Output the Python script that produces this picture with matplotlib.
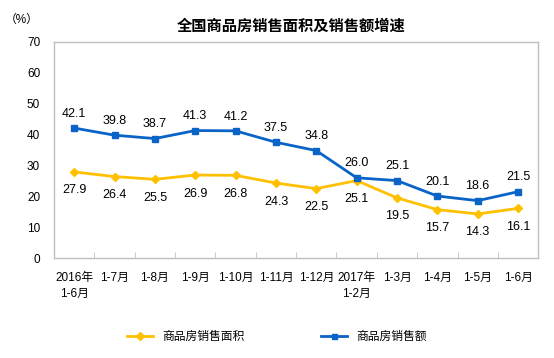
import matplotlib
matplotlib.use("Agg")
import matplotlib.pyplot as plt
import numpy as np

plt.rcParams['font.family'] = ['Liberation Sans', 'Noto Sans CJK SC', 'DejaVu Sans']

# --------------------------
# 数据
# --------------------------
months = ["2016年\n1-6月", "1-7月", "1-8月", "1-9月", "1-10月", "1-11月", "1-12月",
          "2017年\n1-2月", "1-3月", "1-4月", "1-5月", "1-6月"]
area = [27.9, 26.4, 25.5, 26.9, 26.8, 24.3, 22.5, 25.1, 19.5, 15.7, 14.3, 16.1]
amount = [42.1, 39.8, 38.7, 41.3, 41.2, 37.5, 34.8, 26.0, 25.1, 20.1, 18.6, 21.5]

yellow = '#FFC000'
blue = '#0A64C8'
grey = '#BFBFBF'

fig = plt.figure(figsize=(5.54, 3.58), dpi=100)
ax = fig.add_axes([0.0975, 0.279, 0.874, 0.604])

x = np.arange(len(months))
ax.plot(x, area, color=yellow, lw=2, marker='D', ms=4.5, label='商品房销售面积')
ax.plot(x, amount, color=blue, lw=2, marker='s', ms=4.5, label='商品房销售额')

for xi, v in zip(x, area):
    ax.annotate(f"{v:.1f}", (xi, v), xytext=(0, -9), textcoords='offset points',
                ha='center', va='top', fontsize=9)
for xi, v in zip(x, amount):
    ax.annotate(f"{v:.1f}", (xi, v), xytext=(0, 6), textcoords='offset points',
                ha='center', va='bottom', fontsize=9)

ax.set_xlim(-0.5, len(months) - 0.5)
ax.set_ylim(0, 70)
ax.set_yticks(range(0, 71, 10))
ax.set_xticks(x)
ax.set_xticklabels(months, fontsize=8.5, va='top', linespacing=1.4)
ax.set_xticks(np.arange(0.5, len(months) - 1, 1), minor=True)
ax.tick_params(axis='x', which='major', length=0, pad=10)
ax.tick_params(axis='x', which='minor', direction='in', length=4, color=grey)
ax.tick_params(axis='y', length=0, labelsize=8.5, pad=10)
for s in ax.spines.values():
    s.set_color(grey)
    s.set_linewidth(1)

fig.text(0.525, 0.925, "全国商品房销售面积及销售额增速", ha='center', va='center',
         fontsize=11, fontweight='bold')
fig.text(0.04, 0.945, "（%）", ha='center', va='center', fontsize=8.5)

fig.legend(loc='center', bbox_to_anchor=(0.5, 0.058), ncol=2, frameon=False,
           fontsize=8.5, handlelength=2.2, columnspacing=6.5, markerscale=0.8)

fig.savefig("out.png", dpi=100)
